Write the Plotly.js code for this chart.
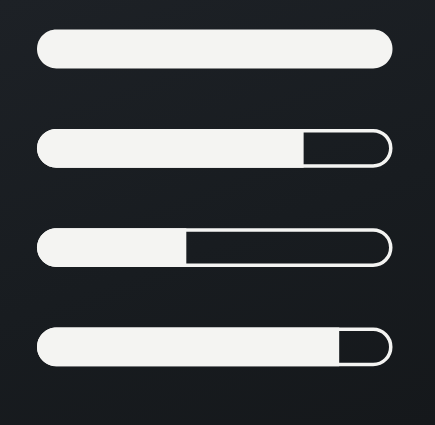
<!DOCTYPE html>
<html>
<head>
<meta charset="utf-8">
<script src="https://cdn.plot.ly/plotly-3.0.1.min.js"></script>
<style>
  html, body { margin: 0; padding: 0; }
  body { width: 435px; height: 425px; overflow: hidden; }
  #chartBox {
    width: 435px; height: 425px;
    background: linear-gradient(160deg, #1d2126 0%, #181c20 55%, #15181b 100%);
  }
</style>
</head>
<body>
<div id="chartBox"></div>
<script>
// progress of each bar, in percent
const rows = [0, 1, 2, 3];
const progress = [100, 75, 42, 85];

// page geometry (pixels)
const W = 435, H = 425;
const barLeft = 37, barRight = 392.5;
const firstCenter = 49, rowPitch = 99.3;
const barHeight = 38.8;
const strokeW = 3.5;
const barColor = '#f4f4f2';

// axis ranges so that 0..100 spans the bar and row i sits at its pixel centre
const pxPerUnit = (barRight - barLeft) / 100;
const xRange = [-barLeft / pxPerUnit, (W - barLeft) / pxPerUnit];
const yRange = [(H - firstCenter) / rowPitch, -firstCenter / rowPitch];

const K = 0.5523;

// pill path in data units; roundRight=false gives a flat right end at x1
function pill(x0, x1, cy, rx, ry, roundRight) {
    const top = cy - ry, bot = cy + ry;
    let p = `M ${x0 + rx},${bot} ` +
        `C ${x0 + rx - K * rx},${bot} ${x0},${cy + K * ry} ${x0},${cy} ` +
        `C ${x0},${cy - K * ry} ${x0 + rx - K * rx},${top} ${x0 + rx},${top} `;
    if (roundRight) {
        p += `L ${x1 - rx},${top} ` +
            `C ${x1 - rx + K * rx},${top} ${x1},${cy - K * ry} ${x1},${cy} ` +
            `C ${x1},${cy + K * ry} ${x1 - rx + K * rx},${bot} ${x1 - rx},${bot} Z`;
    } else {
        p += `L ${x1},${top} L ${x1},${bot} Z`;
    }
    return p;
}

const shapes = [];
const r = barHeight / 2;
rows.forEach((row, i) => {
    const v = progress[i];
    if (v < 100) {
        // outline of the empty track, inset by half the stroke
        const ri = r - strokeW / 2;
        shapes.push({
            type: 'path', xref: 'x', yref: 'y', layer: 'above',
            path: pill(strokeW / 2 / pxPerUnit, 100 - strokeW / 2 / pxPerUnit, row,
                ri / pxPerUnit, ri / rowPitch, true),
            line: { color: barColor, width: strokeW },
            fillcolor: 'rgba(0,0,0,0)'
        });
    }
    shapes.push({
        type: 'path', xref: 'x', yref: 'y', layer: 'above',
        path: pill(0, v, row, r / pxPerUnit, r / rowPitch, v >= 100),
        line: { width: 0 },
        fillcolor: barColor
    });
});

const trace = {
    x: progress,
    y: rows,
    type: 'scatter',
    mode: 'markers',
    marker: { opacity: 0 },
    hoverinfo: 'x'
};

const layout = {
    width: W,
    height: H,
    margin: { l: 0, r: 0, t: 0, b: 0 },
    paper_bgcolor: 'rgba(0,0,0,0)',
    plot_bgcolor: 'rgba(0,0,0,0)',
    showlegend: false,
    xaxis: {
        range: xRange, showgrid: false, zeroline: false,
        showticklabels: false, ticks: '', fixedrange: true
    },
    yaxis: {
        range: yRange, showgrid: false, zeroline: false,
        showticklabels: false, ticks: '', fixedrange: true
    },
    shapes: shapes
};

Plotly.newPlot('chartBox', [trace], layout, { displayModeBar: false, staticPlot: true });
</script>
</body>
</html>
